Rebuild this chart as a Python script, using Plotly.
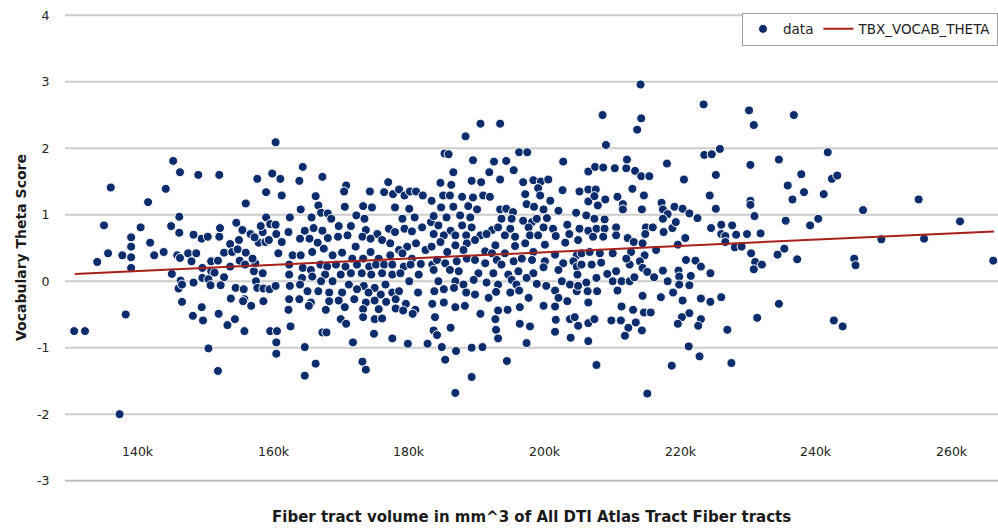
import plotly.graph_objects as go

# ---- data (fiber tract volume in thousands of mm^3, vocabulary theta score) ----
left_pts = [(130.6,-0.75),(132.2,-0.75),(134.0,0.29),(135.0,0.84),(136.0,1.41),(135.6,0.42),(137.3,-2.0),
    (138.2,-0.5),(137.7,0.39),(139.0,0.66),(139.0,0.52),(139.0,0.36),(139.0,0.2)]

pts_140_162 = [(160.3,2.09),(145.2,1.81),(146.2,1.64),(148.9,1.6),(152.0,1.6),(144.1,1.39),(141.5,1.19),(157.6,1.54),
    (159.8,1.62),(161.0,1.54),(158.9,1.34),(161.2,1.29),(155.9,1.17),(146.1,0.97),(144.9,0.83),(146.1,0.73),(140.4,0.81),
    (141.8,0.58),(142.4,0.39),(143.8,0.44),(145.8,0.39),(146.2,0.35),(147.4,0.42),(148.6,0.42),(148.2,0.7),(149.4,0.64),
    (150.3,0.67),(152.0,0.67),(152.1,0.8),(154.5,0.88),(155.4,0.77),(153.6,0.56),(154.9,0.62),(152.7,0.43),(153.9,0.44),
    (154.7,0.48),(155.9,0.43),(147.9,0.3),(150.8,0.3),(151.8,0.31),(153.6,0.22),(155.0,0.31),(155.8,0.25),(149.5,0.2),
    (150.8,0.15),(151.3,0.13),(145.0,0.11),(152.7,0.06),(149.5,0.05),(150.4,0.03),(146.3,0.01),(148.2,-0.02),(152.2,-0.06),
    (150.7,-0.06),(146.0,-0.11),(146.5,-0.05),(146.5,-0.31),(148.1,-0.52),(149.4,-0.39),(149.6,-0.59),(151.9,-0.49),
    (153.2,-0.66),(154.3,-0.57),(153.7,-0.26),(154.4,-0.1),(155.6,-0.12),(155.7,-0.27),(156.7,-0.37),(155.5,-0.3),
    (155.7,-0.75),(150.4,-1.01),(151.8,-1.35),(157.1,0.15),(157.4,0.0),(158.4,0.12),(157.6,-0.1),(158.5,-0.11),
    (159.4,-0.12),(160.3,-0.07),(158.5,-0.3),(157.3,0.27),(156.9,0.34),(157.8,0.58),(158.8,0.59),(158.4,0.74),
    (158.9,0.96),(158.1,0.83),(159.5,0.86),(160.3,0.85),(160.4,0.71),(161.2,0.59),(160.7,0.42),(159.5,-0.75),
    (160.5,-0.75),(160.4,-0.92),(160.4,-1.09),(156.6,0.71),(157.2,0.66),(159.3,0.62)]

pts_162_183 = [(164.3,1.72),(163.8,1.51),(167.2,1.57),(170.7,1.44),(170.4,1.35),(166.2,1.28),(174.2,1.35),(176.9,1.49),
    (176.3,1.34),(177.6,1.31),(178.5,1.38),(179.3,1.29),(180.1,1.35),(181.0,1.35),(182.0,1.29),
    (164.0,1.08),(166.6,1.14),(167.0,1.03),(162.4,0.96),(165.6,0.96),(168.0,1.02),(170.5,1.12),(172.2,0.99),(173.2,1.13),
    (174.5,1.11),(177.9,1.11),(180.0,1.09),(179.0,0.94),(180.8,0.96),
    (168.5,0.94),(169.6,0.83),(171.4,0.83),(173.4,0.94),(173.6,0.77),(175.3,0.71),(176.0,0.62),(177.0,0.79),(177.9,0.74),
    (179.3,0.79),(180.4,0.75),(181.9,0.81),(183.2,0.89),
    (162.2,0.74),(164.6,0.76),(165.9,0.8),(167.2,0.76),(163.9,0.64),(165.3,0.64),(166.5,0.58),(168.0,0.65),(169.5,0.67),
    (170.9,0.69),(172.1,0.52),(173.1,0.67),(174.3,0.64),(174.3,0.44),(175.5,0.34),(177.2,0.57),(178.5,0.47),(179.7,0.52),
    (181.0,0.57),(182.4,0.47),
    (162.8,0.39),(164.0,0.39),(165.7,0.44),(167.4,0.49),(168.7,0.39),(170.1,0.43),(171.6,0.34),(173.2,0.34),(177.2,0.39),
    (179.0,0.42),(180.4,0.34),
    (162.3,0.25),(164.3,0.2),(165.5,0.17),(166.9,0.25),(167.9,0.22),(169.2,0.25),(170.6,0.22),(172.3,0.25),(174.1,0.22),
    (175.1,0.25),(176.3,0.25),(177.5,0.25),(179.2,0.22),(180.2,0.25),(181.7,0.26),(183.4,0.25),
    (162.3,0.1),(164.2,0.05),(165.7,0.07),(167.6,0.1),(168.7,0.0),(169.9,0.1),(171.4,0.12),(173.0,0.12),(174.4,0.1),
    (176.0,0.12),(177.5,0.1),(178.7,0.12),(180.0,0.0),(181.4,0.1),
    (163.9,-0.05),(167.0,0.0),(171.1,-0.05),(173.3,-0.07),(174.9,-0.1),(176.5,-0.05),(162.4,-0.07),(165.0,-0.15),
    (166.6,-0.15),(168.2,-0.17),(170.1,-0.17),(172.3,-0.12),(174.0,-0.17),(175.8,-0.2),(177.5,-0.17),(178.5,-0.15),
    (181.3,-0.17),
    (162.3,-0.27),(163.8,-0.27),(165.5,-0.32),(168.2,-0.3),(169.6,-0.29),(171.9,-0.27),(173.6,-0.32),(174.9,-0.29),
    (176.6,-0.31),(178.0,-0.27),(179.5,-0.34),(165.2,-0.37),(167.7,-0.43),(170.5,-0.39),(173.2,-0.42),(175.5,-0.42),
    (178.0,-0.41),(179.1,-0.44),(180.9,-0.43),(162.2,-0.43),(183.4,-0.34),
    (169.9,-0.57),(170.7,-0.64),(173.2,-0.54),(174.9,-0.57),(176.0,-0.56),(180.5,-0.49),(162.5,-0.68),(167.2,-0.77),
    (167.8,-0.77),(174.8,-0.79),(171.7,-0.92),(177.5,-0.86),(179.8,-0.94),(182.7,-0.94),
    (164.6,-0.99),(166.2,-1.24),(164.6,-1.42),(173.1,-1.21),(173.6,-1.33)]

pts_183_205 = [(190.5,2.37),(193.4,2.37),(188.3,2.18),(185.2,1.92),(185.8,1.91),(189.4,1.82),(192.5,1.8),(194.3,1.81),
    (196.2,1.94),(197.4,1.94),(202.7,1.8),(195.4,1.67),(191.8,1.64),(186.5,1.64),(189.2,1.51),(190.6,1.49),(193.4,1.53),
    (184.6,1.48),(186.2,1.45),(196.8,1.49),(198.3,1.52),(199.4,1.5),(200.5,1.53),(199.0,1.4),(202.6,1.37),
    (185.0,1.29),(186.0,1.29),(187.8,1.27),(189.4,1.26),(190.9,1.29),(191.9,1.27),(197.1,1.31),(199.3,1.29),(183.3,1.21),
    (184.7,1.11),(186.5,1.12),(188.7,1.13),(190.0,1.08),(193.4,1.08),(194.3,1.09),(195.3,1.04),(197.3,1.16),(198.4,1.12),
    (200.8,1.21),(199.8,1.08),(202.0,1.06),
    (183.6,0.98),(185.5,0.96),(187.5,0.99),(189.0,0.96),(193.6,0.94),(195.1,0.94),(196.8,0.91),(198.1,0.89),(198.8,0.94),
    (200.3,0.95),(203.3,0.85),
    (184.3,0.84),(186.1,0.76),(187.8,0.84),(189.2,0.81),(192.2,0.77),(193.1,0.81),(194.9,0.79),(197.6,0.81),(199.8,0.81),
    (201.2,0.79),
    (183.6,0.71),(185.1,0.69),(186.8,0.69),(188.4,0.69),(190.5,0.69),(191.4,0.71),(194.1,0.69),(195.6,0.67),(197.8,0.69),
    (199.0,0.69),(201.6,0.68),(203.6,0.71),
    (184.6,0.59),(186.8,0.54),(188.5,0.57),(189.7,0.62),(192.7,0.54),(195.6,0.53),(197.1,0.57),(200.0,0.55),(203.0,0.58),
    (183.3,0.52),(185.6,0.44),(188.0,0.47),(191.2,0.45),(192.2,0.42),(194.1,0.42),(198.3,0.44),(201.5,0.4),(204.7,0.39),
    (184.1,0.32),(185.3,0.27),(187.0,0.3),(188.5,0.34),(189.7,0.32),(191.2,0.27),(192.9,0.32),(193.6,0.25),(195.4,0.3),
    (196.6,0.34),(198.1,0.32),(200.0,0.3),(202.7,0.27),(204.2,0.3),
    (183.6,0.17),(186.0,0.17),(187.3,0.15),(190.2,0.12),(192.4,0.12),(194.6,0.1),(196.1,0.15),(198.3,0.12),(199.8,0.21),
    (202.0,0.17),(204.7,0.22),
    (184.3,0.0),(186.8,0.0),(188.0,-0.05),(189.5,0.02),(191.4,-0.02),(193.1,-0.05),(195.1,0.02),(195.8,-0.05),(197.3,0.05),
    (198.8,-0.04),(202.5,0.0),(203.7,-0.05),
    (183.7,-0.15),(185.1,-0.12),(186.6,-0.1),(188.4,-0.17),(189.7,-0.2),(191.7,-0.25),(192.8,-0.16),(194.9,-0.17),
    (196.2,-0.14),(197.6,-0.25),(200.2,-0.07),(201.5,-0.14),(202.0,-0.25),(203.3,-0.3),(204.7,-0.15),
    (185.1,-0.32),(186.8,-0.39),(188.2,-0.37),(190.5,-0.49),(193.1,-0.44),(194.5,-0.43),(196.3,-0.39),(199.8,-0.37),
    (201.5,-0.38),
    (183.8,-0.54),(192.7,-0.57),(196.3,-0.64),(197.8,-0.68),(201.6,-0.58),(203.7,-0.57),(204.4,-0.54),
    (183.6,-0.74),(184.1,-0.81),(186.1,-0.7),(192.8,-0.73),(201.5,-0.76),(203.8,-0.85),(193.1,-0.86),(197.3,-0.93),
    (184.8,-0.99),(185.3,-1.18),(186.9,-1.05),(189.2,-1.0),(190.8,-0.99),(194.4,-1.2),(189.2,-1.44),(186.8,-1.68)]

pts_205_226 = [(214.1,2.96),(208.5,2.5),(214.2,2.45),(213.6,2.28),(209.0,2.05),(223.5,1.9),(224.6,1.91),(225.8,1.99),
    (218.0,1.77),(206.4,1.65),(207.4,1.72),(208.6,1.71),(210.3,1.7),(212.0,1.7),(212.1,1.83),(213.3,1.66),(214.2,1.58),
    (215.4,1.58),(220.5,1.53),(225.2,1.6),
    (205.1,1.35),(206.4,1.38),(207.5,1.38),(206.4,1.2),(207.3,1.28),(208.9,1.23),(210.7,1.27),(211.5,1.16),(212.9,1.39),
    (214.6,1.29),(214.3,1.08),(211.5,1.08),(207.8,1.14),(217.2,1.18),(217.4,1.08),(219.1,1.12),(218.1,1.01),(220.3,1.09),
    (221.3,1.02),(222.5,0.95),(224.3,1.29),(225.2,1.09),
    (204.6,1.03),(206.1,0.99),(207.3,0.94),(208.8,0.93),(205.1,0.79),(206.4,0.76),(207.6,0.79),(208.8,0.79),(210.5,0.81),
    (207.1,0.67),(208.6,0.67),(210.5,0.69),(212.2,0.65),(213.1,0.59),(214.9,0.81),(215.9,0.81),(214.8,0.71),(217.4,0.94),
    (218.8,0.8),(219.3,0.89),(217.5,0.74),(220.7,0.65),(219.6,0.55),(216.4,0.47),(214.4,0.57),(224.5,0.8),(226.0,0.85),
    (226.0,0.71),
    (204.9,0.62),(205.4,0.42),(206.6,0.44),(208.1,0.42),(210.0,0.42),(212.7,0.44),(214.7,0.39),(212.5,0.25),(212.0,0.34),
    (214.0,0.3),(205.4,0.25),(206.9,0.25),(208.3,0.28),(210.5,0.15),
    (204.8,0.1),(206.1,-0.02),(207.6,0.05),(209.2,0.11),(210.0,0.0),(211.3,0.0),(212.5,0.0),(213.2,0.06),(214.4,0.2),
    (215.1,0.14),(216.1,0.06),(217.4,0.16),(219.7,0.16),(220.8,0.32),(222.2,0.31),(223.0,0.22),(224.4,0.12),(221.5,0.08),
    (218.1,0.0),(219.8,0.07),
    (204.9,-0.07),(206.3,-0.15),(207.7,-0.15),(210.7,-0.14),(214.4,-0.22),(217.1,-0.24),(218.9,-0.17),(219.8,-0.05),
    (221.3,-0.06),(220.3,-0.29),(223.0,-0.26),(224.4,-0.31),(226.0,-0.24),
    (206.4,-0.32),(211.3,-0.38),(213.0,-0.43),(214.6,-0.47),(215.6,-0.47),(221.3,-0.48),(220.2,-0.54),(223.0,-0.57),
    (204.9,-0.67),(206.4,-0.63),(207.3,-0.57),(209.8,-0.59),(211.2,-0.59),(212.3,-0.7),(213.4,-0.62),(214.3,-0.74),
    (211.8,-0.82),(219.6,-0.64),(222.6,-0.67),
    (206.4,-0.9),(221.2,-0.98),(222.8,-1.13),(207.6,-1.26),(218.7,-1.27),(215.1,-1.69)]

right_pts = [(223.4,2.66),(230.1,2.57),(230.8,2.35),(236.7,2.5),(230.3,1.75),(234.5,1.83),(241.7,1.94),(237.8,1.61),
    (235.8,1.44),(242.3,1.54),(243.1,1.59),(238.2,1.34),(241.1,1.31),(236.5,1.23),(230.3,1.21),(230.3,1.15),(246.9,1.07),
    (255.1,1.23),(230.9,0.98),(235.5,0.91),(239.1,0.84),(240.3,0.94),(261.2,0.9),(227.6,0.84),(226.6,0.68),(228.2,0.7),
    (229.8,0.71),(231.8,0.72),(226.6,0.59),(228.0,0.51),(229.0,0.52),(230.4,0.42),(235.3,0.49),(234.3,0.4),(249.6,0.63),
    (255.9,0.64),(237.2,0.33),(245.6,0.34),(245.8,0.24),(231.0,0.29),(232.0,0.25),(230.8,0.18),(266.1,0.31),
    (226.9,-0.73),(231.3,-0.55),(234.5,-0.34),(242.6,-0.59),(243.9,-0.68),(227.5,-1.23)]

# fitted line (TBX_VOCAB_THETA) end points
fit_volume_k = [130.7, 266.2]
fit_theta = [0.11, 0.75]

x_tick_vals_k = [140, 160, 180, 200, 220, 240, 260]
x_tick_text = ["140k", "160k", "180k", "200k", "220k", "240k", "260k"]
y_tick_vals = [-3, -2, -1, 0, 1, 2, 3, 4]

all_pts = left_pts + pts_140_162 + pts_162_183 + pts_183_205 + pts_205_226 + right_pts
vol = [p[0] * 1000 for p in all_pts]
theta = [p[1] for p in all_pts]

FONT = "DejaVu Sans"
x_min, x_max = 129.25e3, 266.8e3

fig = go.Figure()
# horizontal grid lines as line traces across the full x range, one per y tick
for v in y_tick_vals:
    fig.add_trace(go.Scatter(
        x=[x_min, x_max], y=[v, v], mode="lines", showlegend=False, hoverinfo="skip",
        line=dict(color="#bfbfbf" if v == -3 else "#cccccc", width=2),
    ))
fig.add_trace(go.Scatter(
    x=vol, y=theta, mode="markers", name="data",
    marker=dict(color="#0c2c6c", size=9, line=dict(color="white", width=1)),
))
fig.add_trace(go.Scatter(
    x=[v * 1000 for v in fit_volume_k], y=fit_theta, mode="lines", name="TBX_VOCAB_THETA",
    line=dict(color="#a8201a", width=2),
))

fig.update_layout(
    width=998, height=529,
    margin=dict(l=65, r=0, t=14, b=47),
    paper_bgcolor="white", plot_bgcolor="white",
    font=dict(family=FONT, size=12, color="#333333"),
    showlegend=True,
    legend=dict(orientation="h", x=1, xanchor="right", y=1.003, yanchor="top",
                bgcolor="white", bordercolor="#a0a0a0", borderwidth=1,
                font=dict(family=FONT, size=13.5, color="#222222"),
                itemwidth=30, tracegroupgap=0),
    xaxis=dict(range=[x_min, x_max], showgrid=False, zeroline=False,
               showticklabels=False, ticks="", showline=False),
    yaxis=dict(range=[-3.02, 4.02], tickmode="array", tickvals=y_tick_vals,
               ticktext=[str(v) for v in y_tick_vals],
               showgrid=False, zeroline=False,
               showline=False, ticks="outside", ticklen=12, tickcolor="rgba(0,0,0,0)",
               tickfont=dict(family=FONT, size=12.5, color="#222222")),
)

annotations = []
for v, t in zip(x_tick_vals_k, x_tick_text):
    annotations.append(dict(x=v * 1000, y=-3, xref="x", yref="y", text=t, showarrow=False,
                            yshift=29, font=dict(family=FONT, size=12.5, color="#222222")))
annotations.append(dict(x=0.5, y=-35 / 468, xref="paper", yref="paper", yanchor="middle",
                        text="Fiber tract volume in mm^3 of All DTI Atlas Tract Fiber tracts",
                        showarrow=False, font=dict(family=FONT, size=15, color="#1a1a1a", weight="bold")))
annotations.append(dict(x=-44 / 933, y=0.5, xref="paper", yref="paper", xanchor="center", yanchor="middle",
                        text="Vocabulary Theta Score", textangle=-90,
                        showarrow=False, font=dict(family=FONT, size=14, color="#1a1a1a", weight="bold")))
fig.update_layout(annotations=annotations)

fig.write_html("out.html")
